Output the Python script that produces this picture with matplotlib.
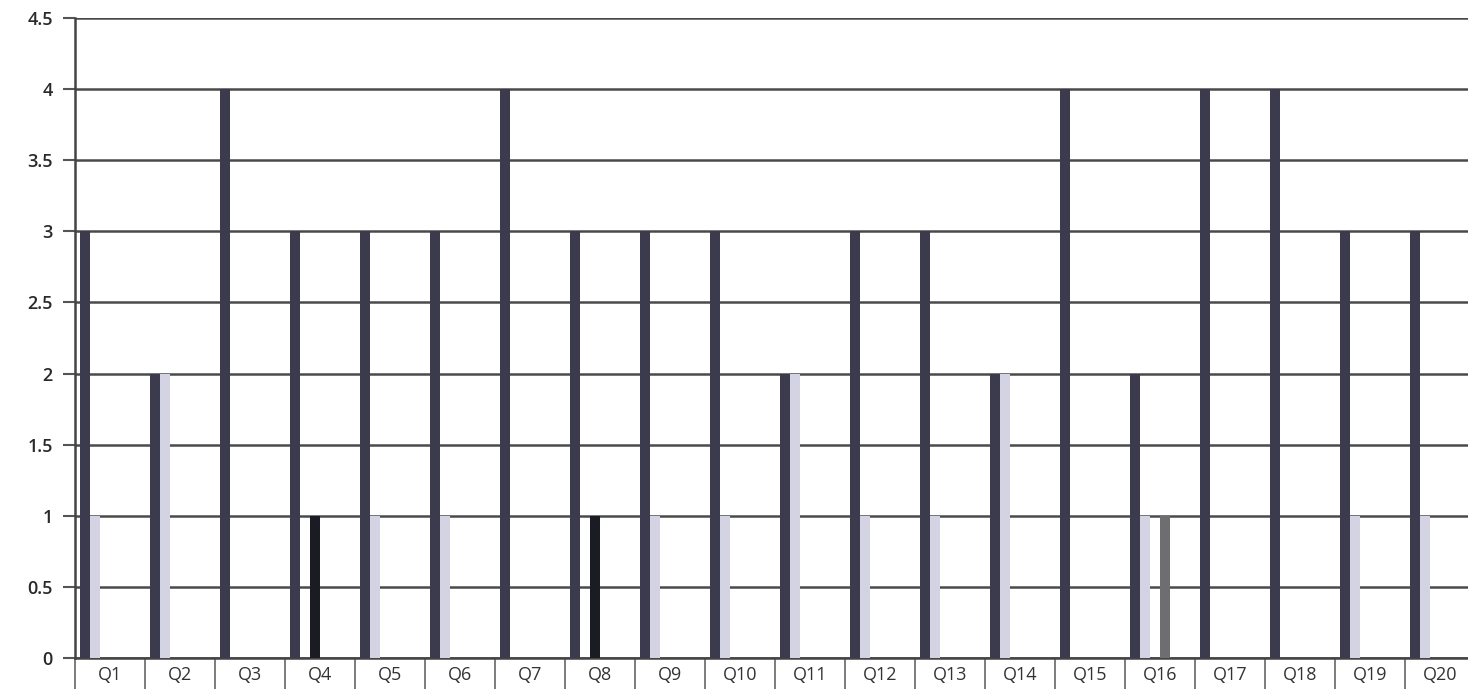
import numpy as np
import matplotlib.pyplot as plt

questions = [f"Q{i}" for i in range(1, 21)]
series_a = [3, 2, 4, 3, 3, 3, 4, 3, 3, 3, 2, 3, 3, 2, 4, 2, 4, 4, 3, 3]
series_b = [1, 2, 0, 0, 1, 1, 0, 0, 1, 1, 2, 1, 1, 2, 0, 1, 0, 0, 1, 1]
series_c = [0, 0, 0, 1, 0, 0, 0, 1, 0, 0, 0, 0, 0, 0, 0, 0, 0, 0, 0, 0]
series_d = [0, 0, 0, 0, 0, 0, 0, 0, 0, 0, 0, 0, 0, 0, 0, 1, 0, 0, 0, 0]
yticks = [0, 0.5, 1, 1.5, 2, 2.5, 3, 3.5, 4, 4.5]

colors = ["#3b3b4d", "#d3d3e3", "#1b1b24", "#6e6e70"]
n_slots = 6            # clustered layout leaves room for 6 bars per question
bar_w = 1 / (n_slots + 1)

fig = plt.figure(figsize=(14.68, 6.89), dpi=100)
ax = fig.add_axes([75 / 1468, 1 - 658 / 689, 1400 / 1468, 640 / 689])

x = np.arange(len(questions))
start = x + bar_w / 2
for k, (vals, c) in enumerate(zip([series_a, series_b, series_c, series_d], colors)):
    ax.bar(start + k * bar_w, vals, width=bar_w, align="edge", color=c, zorder=3)

ax.set_xlim(0, len(questions))
ax.set_ylim(0, 4.5)
ax.set_yticks(yticks)
ax.set_yticklabels([f"{t:g}" for t in yticks], fontsize=13, fontfamily="Open Sans",
                   color="#2a2a2a", fontweight="semibold")
ax.yaxis.grid(True, color="#4a4a4a", lw=1.8, zorder=1)
ax.tick_params(axis="y", length=9, width=1.5, color="#555555", pad=7)

ax.set_xticks(x + 0.5)
ax.set_xticklabels(questions, fontsize=13, fontfamily="Open Sans", color="#333333")
ax.tick_params(axis="x", which="major", length=0, pad=6)
ax.set_xticks(np.arange(len(questions) + 1), minor=True)
ax.tick_params(axis="x", which="minor", length=24, width=1.2, color="#666666")

for side in ["top", "right"]:
    ax.spines[side].set_visible(False)
ax.spines["left"].set_color("#444444")
ax.spines["left"].set_linewidth(1.8)
ax.spines["bottom"].set_color("#444444")
ax.spines["bottom"].set_linewidth(1.8)

fig.savefig("out.png", dpi=100)
